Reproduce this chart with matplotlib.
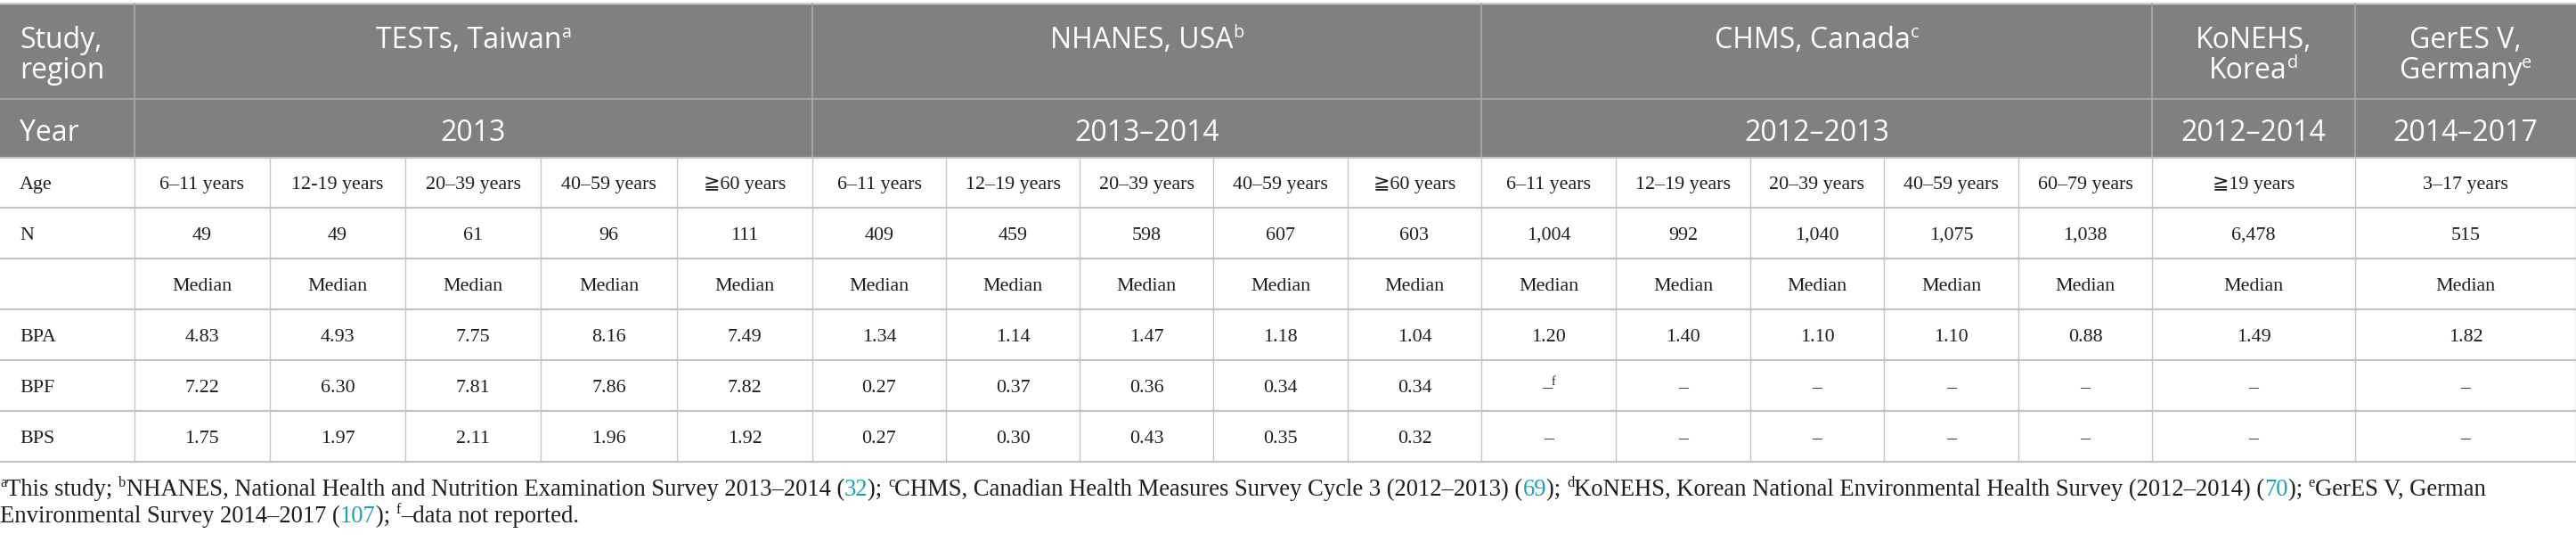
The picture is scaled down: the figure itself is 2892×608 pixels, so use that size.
import matplotlib
matplotlib.use("Agg")
import matplotlib.pyplot as plt

# ---------------- data ----------------
groups = ["TESTs, Taiwan", "NHANES, USA", "CHMS, Canada", "KoNEHS,\nKorea", "GerES V,\nGermany"]
group_sup = ["a", "b", "c", "d", "e"]
group_years = ["2013", "2013\u20132014", "2012\u20132013", "2012\u20132014", "2014\u20132017"]
group_ncols = [5, 5, 5, 1, 1]

ages = ["6\u201311 years", "12-19 years", "20\u201339 years", "40\u201359 years", "\u226760 years",
        "6\u201311 years", "12\u201319 years", "20\u201339 years", "40\u201359 years", "\u226760 years",
        "6\u201311 years", "12\u201319 years", "20\u201339 years", "40\u201359 years", "60\u201379 years",
        "\u226719 years", "3\u201317 years"]
n_values = [49, 49, 61, 96, 111,
            409, 459, 598, 607, 603,
            1004, 992, 1040, 1075, 1038,
            6478, 515]
bpa = [4.83, 4.93, 7.75, 8.16, 7.49,
       1.34, 1.14, 1.47, 1.18, 1.04,
       1.20, 1.40, 1.10, 1.10, 0.88,
       1.49, 1.82]
bpf = [7.22, 6.30, 7.81, 7.86, 7.82,
       0.27, 0.37, 0.36, 0.34, 0.34,
       None, None, None, None, None,
       None, None]
bps = [1.75, 1.97, 2.11, 1.96, 1.92,
       0.27, 0.30, 0.43, 0.35, 0.32,
       None, None, None, None, None,
       None, None]
row_labels = ["Age", "N", "", "BPA", "BPF", "BPS"]
stat_label = "Median"

footnote1 = [("a", "sup"), ("This study; ", "n"), ("b", "sup"),
             ("NHANES, National Health and Nutrition Examination Survey 2013\u20132014 (", "n"), ("32", "link"),
             ("); ", "n"), ("c", "sup"), ("CHMS, Canadian Health Measures Survey Cycle 3 (2012\u20132013) (", "n"),
             ("69", "link"), ("); ", "n"), ("d", "sup"),
             ("KoNEHS, Korean National Environmental Health Survey (2012\u20132014) (", "n"), ("70", "link"),
             ("); ", "n"), ("e", "sup"), ("GerES V, German", "n")]
footnote2 = [("Environmental Survey 2014\u20132017 (", "n"), ("107", "link"), ("); ", "n"), ("f", "sup"),
             ("\u2013data not reported.", "n")]

# ---------------- layout ----------------
W, H = 2892, 608
col_edges = [0, 150.7, 303, 455, 607, 760, 912, 1062, 1212, 1362, 1513, 1663,
             1814, 1965, 2115, 2266, 2416, 2644, 2892]
row_edges = [4, 111, 177, 233, 290, 347, 404, 461, 518]
HEADER_BG = "#808080"
HEADER_LINE = "#a9a9a9"
GRID = "#c4c4c4"
LINK = "#1aa3b8"
TEXT = "#1e1e1e"
SERIF = ["Liberation Serif", "DejaVu Serif", "DejaVu Sans"]
SANS = ["Open Sans", "DejaVu Sans"]
HDR_PX = 32
BODY_PX = 22

fig = plt.figure(figsize=(W / 100, H / 100), dpi=100)
ax = fig.add_axes([0, 0, 1, 1])
ax.set_xlim(0, W)
ax.set_ylim(H, 0)
ax.axis("off")
renderer = fig.canvas.get_renderer()


def pt(px):
    return px * 0.72


def text_width(txt, px, family):
    t1 = ax.text(0, 0, txt + "|", fontsize=pt(px), family=family)
    t2 = ax.text(0, 0, "|", fontsize=pt(px), family=family)
    w = t1.get_window_extent(renderer).width - t2.get_window_extent(renderer).width
    t1.remove(); t2.remove()
    return w


def rich(x, yc, segs, px, family, color, ha="center", cap=0.66):
    widths = []
    for txt, kind in segs:
        s = px * 0.62 if kind == "sup" else px
        widths.append(text_width(txt, s, family))
    total = sum(widths)
    x0 = x - total / 2 if ha == "center" else x
    base = yc + cap * px / 2
    for (txt, kind), w in zip(segs, widths):
        if kind == "sup":
            ax.text(x0, base - px * 0.36, txt, fontsize=pt(px * 0.62), family=family,
                    color=color, va="baseline", ha="left")
        else:
            ax.text(x0, base, txt, fontsize=pt(px), family=family,
                    color=LINK if kind == "link" else color, va="baseline", ha="left")
        x0 += w
    return total


# header background
ax.add_patch(plt.Rectangle((0, row_edges[0]), W, row_edges[2] - row_edges[0],
                           facecolor=HEADER_BG, edgecolor="none", zorder=0))
ax.plot([0, W], [row_edges[0], row_edges[0]], color="#cfcfcf", lw=1.6, zorder=2)
ax.plot([0, W], [row_edges[1], row_edges[1]], color=HEADER_LINE, lw=1.2, zorder=2)

# group boundaries
group_edges = [0, 1]
for n in group_ncols:
    group_edges.append(group_edges[-1] + n)
for gi in group_edges[1:-1]:
    x = col_edges[gi]
    ax.plot([x, x], [row_edges[0], row_edges[2]], color=HEADER_LINE, lw=1.2, zorder=2)

# header texts
line1_y, line2_y = 42, 76
rich(22, line1_y, [("Study,", "n")], HDR_PX, SANS, "white", ha="left", cap=0.72)
rich(22, line2_y, [("region", "n")], HDR_PX, SANS, "white", ha="left", cap=0.72)
rich(22, 146, [("Year", "n")], HDR_PX, SANS, "white", ha="left", cap=0.72)
for g, (name, sup, yr) in enumerate(zip(groups, group_sup, group_years)):
    xl = col_edges[group_edges[g + 1]]
    xr = col_edges[group_edges[g + 2]]
    xc = (xl + xr) / 2
    parts = name.split("\n")
    if len(parts) == 1:
        rich(xc, line1_y, [(parts[0], "n"), (sup, "sup")], HDR_PX, SANS, "white", cap=0.72)
    else:
        rich(xc, line1_y, [(parts[0], "n")], HDR_PX, SANS, "white", cap=0.72)
        rich(xc, line2_y, [(parts[1], "n"), (sup, "sup")], HDR_PX, SANS, "white", cap=0.72)
    rich(xc, 146, [(yr, "n")], HDR_PX, SANS, "white", cap=0.72)

# body grid
for y in row_edges[2:]:
    ax.plot([0, W], [y, y], color=GRID, lw=1.6, zorder=2)
for x in col_edges[1:-1]:
    ax.plot([x, x], [row_edges[2], row_edges[-1]], color=GRID, lw=1.0, zorder=2)
ax.plot([W - 0.5, W - 0.5], [row_edges[2], row_edges[-1]], color=GRID, lw=1.0, zorder=2)


def fmt(v):
    return "\u2013" if v is None else f"{v:.2f}"


body_rows = [ages,
             [f"{v:,}" for v in n_values],
             [stat_label] * len(ages),
             [fmt(v) for v in bpa],
             [fmt(v) for v in bpf],
             [fmt(v) for v in bps]]

for r, (label, cells) in enumerate(zip(row_labels, body_rows)):
    yc = (row_edges[r + 2] + row_edges[r + 3]) / 2
    if label:
        rich(22, yc, [(label, "n")], BODY_PX, SERIF, TEXT, ha="left")
    for c, txt in enumerate(cells):
        xc = (col_edges[c + 1] + col_edges[c + 2]) / 2
        segs = [(txt, "n")]
        if label == "BPF" and c == 10:
            segs.append(("f", "sup"))
        rich(xc, yc, segs, BODY_PX, SERIF, TEXT)

# footnotes: fit line 1 to its width in the reference
target = 2792
w_base = sum(text_width(t, 20 * (0.62 if k == "sup" else 1), SERIF) for t, k in footnote1)
fn_px = 20 * target / w_base
rich(0, 547, footnote1, fn_px, SERIF, TEXT, ha="left")
rich(0, 577, footnote2, fn_px, SERIF, TEXT, ha="left")

fig.savefig("out.png", dpi=100)
